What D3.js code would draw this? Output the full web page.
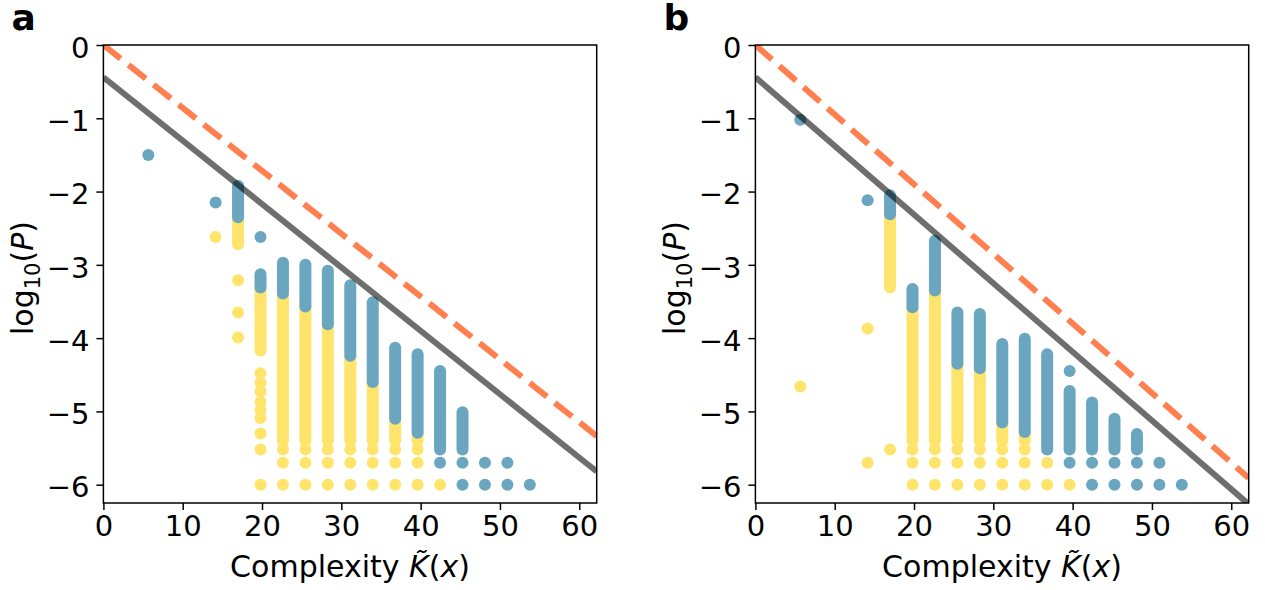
<!DOCTYPE html>
<html>
<head>
<meta charset="utf-8">
<script src="https://cdn.jsdelivr.net/npm/d3@7"></script>
<style>
  body { margin: 0; background: #fff; }
  svg { font-family: "DejaVu Sans", sans-serif; }
  .tick text { font-size: 29px; fill: #000; font-family: "DejaVu Sans", sans-serif; }
  .tick line { stroke: #000; stroke-width: 1.5px; }
</style>
</head>
<body>
<script>
// tick labels
var xTicks = [0, 10, 20, 30, 40, 50, 60],
    yTicks = [0, -1, -2, -3, -4, -5, -6];

// ---- panel a ----
// stacked runs of points: [K, top log10P, bottom log10P]
var blueRunsA = [
  [16.98, -1.92, -2.35], [19.81, -3.13, -3.31], [22.64, -2.97, -3.39],
  [25.47, -3.00, -3.57], [28.30, -3.08, -3.81], [31.13, -3.28, -4.24],
  [33.96, -3.51, -4.60], [36.79, -4.13, -5.10], [39.62, -4.22, -5.29],
  [42.45, -4.45, -5.52], [45.28, -5.01, -5.52]
];
var yellowRunsA = [
  [16.98, -2.35, -2.72], [19.81, -3.31, -4.17], [22.64, -3.39, -5.40],
  [25.47, -3.57, -5.40], [28.30, -3.81, -5.40], [31.13, -4.24, -5.40],
  [33.96, -4.60, -5.40], [36.79, -5.10, -5.40], [39.62, -5.29, -5.40]
];
// single points: [K, log10P]
var blueDotsA = [
  [5.66, -1.50], [14.15, -2.15], [19.81, -2.62],
  [42.45, -5.70], [45.28, -5.70], [48.11, -5.70], [50.94, -5.70],
  [45.28, -6.00], [48.11, -6.00], [50.94, -6.00], [53.77, -6.00]
];
var yellowDotsA = [
  [14.15, -2.62], [16.98, -3.21], [16.98, -3.65], [16.98, -3.99],
  [19.81, -4.48], [19.81, -4.61], [19.81, -4.73], [19.81, -4.87],
  [19.81, -4.98], [19.81, -5.09], [19.81, -5.30], [19.81, -5.52], [19.81, -6.00],
  [22.64, -5.52], [25.47, -5.52], [28.30, -5.52], [31.13, -5.52],
  [33.96, -5.52], [36.79, -5.52], [39.62, -5.52],
  [22.64, -5.70], [25.47, -5.70], [28.30, -5.70], [31.13, -5.70],
  [33.96, -5.70], [36.79, -5.70], [39.62, -5.70],
  [22.64, -6.00], [25.47, -6.00], [28.30, -6.00], [31.13, -6.00],
  [33.96, -6.00], [36.79, -6.00], [39.62, -6.00], [42.45, -6.00]
];
// lines: [intercept, slope]
var boundA = [0, -0.0858],
    fitA = [-0.44, -0.0865];

// ---- panel b ----
var blueRunsB = [
  [16.98, -2.05, -2.31], [19.81, -3.33, -3.58], [22.64, -2.67, -3.35],
  [25.47, -3.65, -4.35], [28.30, -3.67, -4.41], [31.13, -4.08, -5.15],
  [33.96, -4.01, -5.28], [36.79, -4.22, -5.52], [39.62, -4.72, -5.52],
  [42.45, -4.88, -5.52], [45.28, -5.10, -5.52], [48.11, -5.31, -5.52]
];
var yellowRunsB = [
  [16.98, -2.31, -3.31], [19.81, -3.58, -5.40], [22.64, -3.35, -5.40],
  [25.47, -4.35, -5.40], [28.30, -4.41, -5.40], [31.13, -5.15, -5.40],
  [33.96, -5.28, -5.40]
];
var blueDotsB = [
  [5.66, -1.02], [14.15, -2.12], [39.62, -4.45],
  [39.62, -5.70], [42.45, -5.70], [45.28, -5.70], [48.11, -5.70], [50.94, -5.70],
  [42.45, -6.00], [45.28, -6.00], [48.11, -6.00], [50.94, -6.00], [53.77, -6.00]
];
var yellowDotsB = [
  [5.66, -4.66], [14.15, -3.87], [14.15, -5.70], [16.98, -5.52],
  [19.81, -5.52], [22.64, -5.52], [25.47, -5.52], [28.30, -5.52],
  [31.13, -5.52], [33.96, -5.52],
  [19.81, -5.70], [22.64, -5.70], [25.47, -5.70], [28.30, -5.70],
  [31.13, -5.70], [33.96, -5.70], [36.79, -5.70],
  [19.81, -6.00], [22.64, -6.00], [25.47, -6.00], [28.30, -6.00],
  [31.13, -6.00], [33.96, -6.00], [36.79, -6.00], [39.62, -6.00]
];
var boundB = [0, -0.095],
    fitB = [-0.44, -0.0937];

// sizes
var width = 493.3, height = 458, marginTop = 45, r = 6;
var blue = "#6aa6bf", yellow = "#ffe46b";

var svg = d3.select("body").append("svg")
            .attr("width", 1265)
            .attr("height", 590);

var x = d3.scaleLinear().domain([0, 62.2]).range([0, width]),
    y = d3.scaleLinear().domain([-6.25, 0]).range([height, 0]);

function drawPanel(id, left, blueRuns, yellowRuns, blueDots, yellowDots, bound, fit) {
  var g = svg.append("g").attr("transform", "translate(" + left + "," + marginTop + ")");

  g.append("defs").append("clipPath")
   .attr("id", "clip-" + id)
   .append("rect")
   .attr("width", width)
   .attr("height", height);

  var plot = g.append("g").attr("clip-path", "url(#clip-" + id + ")");

  // yellow first, blue on top
  plot.selectAll(".yrun").data(yellowRuns).enter().append("line")
      .attr("x1", d => x(d[0])).attr("x2", d => x(d[0]))
      .attr("y1", d => y(d[1])).attr("y2", d => y(d[2]))
      .attr("stroke", yellow).attr("stroke-width", 2 * r).attr("stroke-linecap", "round");
  plot.selectAll(".ydot").data(yellowDots).enter().append("circle")
      .attr("cx", d => x(d[0])).attr("cy", d => y(d[1])).attr("r", r)
      .attr("fill", yellow);
  plot.selectAll(".brun").data(blueRuns).enter().append("line")
      .attr("x1", d => x(d[0])).attr("x2", d => x(d[0]))
      .attr("y1", d => y(d[1])).attr("y2", d => y(d[2]))
      .attr("stroke", blue).attr("stroke-width", 2 * r).attr("stroke-linecap", "round");
  plot.selectAll(".bdot").data(blueDots).enter().append("circle")
      .attr("cx", d => x(d[0])).attr("cy", d => y(d[1])).attr("r", r)
      .attr("fill", blue);

  var line = d3.line().x(d => x(d[0])).y(d => y(d[1]));
  var ends = x.domain();

  plot.append("path")
      .attr("d", line(ends.map(k => [k, fit[0] + fit[1] * k])))
      .attr("fill", "none")
      .attr("stroke", "#000").attr("stroke-opacity", 0.57)
      .attr("stroke-width", 6);

  plot.append("path")
      .attr("d", line(ends.map(k => [k, bound[0] + bound[1] * k])))
      .attr("fill", "none")
      .attr("stroke", "#ff7f4f")
      .attr("stroke-width", 6)
      .attr("stroke-dasharray", "22,10");

  // axes
  var xAxis = g.append("g")
     .attr("transform", "translate(0," + height + ")")
     .call(d3.axisBottom(x).tickValues(xTicks).tickSize(7).tickPadding(5));
  xAxis.select(".domain").remove();

  var yAxis = g.append("g")
     .call(d3.axisLeft(y).tickValues(yTicks).tickSize(7).tickPadding(7).tickFormat(d3.format("d")));
  yAxis.select(".domain").remove();
  yAxis.selectAll(".tick text").attr("dy", "0.42em");

  // frame
  g.append("rect")
   .attr("width", width).attr("height", height)
   .attr("fill", "none").attr("stroke", "#000").attr("stroke-width", 1.5);

  // x label
  var xl = g.append("text")
     .attr("x", width / 2).attr("y", 577 - marginTop)
     .attr("text-anchor", "middle")
     .style("font-size", "30px");
  xl.append("tspan").text("Complexity ");
  xl.append("tspan").style("font-style", "italic").text("K\u0303");
  xl.append("tspan").text("(");
  xl.append("tspan").style("font-style", "italic").text("x");
  xl.append("tspan").text(")");

  // y label
  var yl = g.append("text")
     .attr("transform", "translate(" + (33 - 103.4) + "," + (height / 2 + 4) + ") rotate(-90)")
     .attr("text-anchor", "middle")
     .style("font-size", "30px");
  yl.append("tspan").text("log");
  yl.append("tspan").attr("dy", 7).style("font-size", "21px").text("10");
  yl.append("tspan").attr("dy", -7).text("(");
  yl.append("tspan").style("font-style", "italic").text("P");
  yl.append("tspan").text(")");

  // panel letter
  svg.append("text")
     .attr("x", left - 92).attr("y", 30)
     .style("font-size", "36px").style("font-weight", "bold")
     .text(id);
}

drawPanel("a", 103.4, blueRunsA, yellowRunsA, blueDotsA, yellowDotsA, boundA, fitA);
drawPanel("b", 755.4, blueRunsB, yellowRunsB, blueDotsB, yellowDotsB, boundB, fitB);
</script>
</body>
</html>
